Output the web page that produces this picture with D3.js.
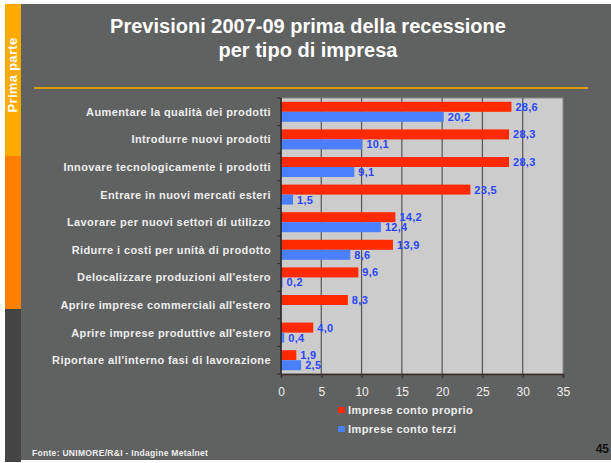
<!DOCTYPE html>
<html>
<head>
<meta charset="utf-8">
<script src="https://cdn.jsdelivr.net/npm/d3@7"></script>
<style>
  body { margin: 0; background: #fff; }
  text { font-family: Arial, "Liberation Sans", sans-serif; }
</style>
</head>
<body>
<script>
// categories and series
var categories = [
  "Aumentare la qualità dei prodotti",
  "Introdurre nuovi prodotti",
  "Innovare tecnologicamente i prodotti",
  "Entrare in nuovi mercati esteri",
  "Lavorare per nuovi settori di utilizzo",
  "Ridurre i costi per unità di prodotto",
  "Delocalizzare produzioni all'estero",
  "Aprire imprese commerciali all'estero",
  "Aprire imprese produttive all'estero",
  "Riportare all'interno fasi di lavorazione"
];
var contoProprio = [28.6, 28.3, 28.3, 23.5, 14.2, 13.9, 9.6, 8.3, 4.0, 1.9];
var contoTerzi   = [20.2, 10.1, 9.1, 1.5, 12.4, 8.6, 0.2, null, 0.4, 2.5];
var seriesNames = ["Imprese conto proprio", "Imprese conto terzi"];
var seriesColors = ["#ff2a00", "#4a80ff"];
var xTicks = [0, 5, 10, 15, 20, 25, 30, 35];

var W = 611, H = 463;
var svg = d3.select("body").append("svg")
    .attr("width", W)
    .attr("height", H);

// slide background
svg.append("rect").attr("x", 21).attr("y", 4).attr("width", W - 21).attr("height", 456).attr("fill", "#606161");
svg.append("rect").attr("x", 5).attr("y", 4).attr("width", 16).attr("height", 152).attr("fill", "#ffaa00");
svg.append("rect").attr("x", 5).attr("y", 156).attr("width", 16).attr("height", 153).attr("fill", "#ff7f00");
svg.append("rect").attr("x", 5).attr("y", 309).attr("width", 16).attr("height", 153).attr("fill", "#444444");

svg.append("text")
    .attr("transform", "translate(17,75) rotate(-90)")
    .attr("text-anchor", "middle")
    .attr("fill", "#fff")
    .style("font-size", "13px")
    .style("font-weight", "bold")
    .style("letter-spacing", "0.3px")
    .text("Prima parte");

// title
var title = svg.append("text")
    .attr("text-anchor", "middle")
    .attr("fill", "#fff")
    .style("font-size", "20px")
    .style("font-weight", "bold");
title.append("tspan").attr("x", 308).attr("y", 33).text("Previsioni 2007-09 prima della recessione");
title.append("tspan").attr("x", 308).attr("y", 57).text("per tipo di impresa");

svg.append("line")
    .attr("x1", 34).attr("x2", 588).attr("y1", 88).attr("y2", 88)
    .attr("stroke", "#e09a10").attr("stroke-width", 2);

// plot area
var plotLeft = 281, plotRight = 563, plotTop = 98, plotBottom = 374;

var x = d3.scaleLinear().domain([0, 35]).range([plotLeft, plotRight]);
var y = d3.scaleBand().domain(categories).range([plotTop, plotBottom]);
var inner = d3.scaleBand().domain([0, 1]).range([0, y.bandwidth()]).paddingOuter(0.38).paddingInner(0);

svg.append("rect")
    .attr("x", plotLeft).attr("y", plotTop)
    .attr("width", plotRight - plotLeft).attr("height", plotBottom - plotTop)
    .attr("fill", "#cccccc")
    .attr("stroke", "#8a8a8a");

// vertical gridlines
svg.append("g").selectAll("line")
    .data(xTicks.slice(1, -1))
    .enter().append("line")
    .attr("x1", function(d) { return x(d); })
    .attr("x2", function(d) { return x(d); })
    .attr("y1", plotTop).attr("y2", plotBottom)
    .attr("stroke", "#555").attr("stroke-width", 1.2);

// bars
var series = [contoProprio, contoTerzi];
series.forEach(function(vals, s) {
  var rows = categories.map(function(c, i) { return {cat: c, v: vals[i]}; })
      .filter(function(d) { return d.v != null; });
  var g = svg.append("g");
  g.selectAll("rect")
      .data(rows)
      .enter().append("rect")
      .attr("x", x(0))
      .attr("y", function(d) { return y(d.cat) + inner(s); })
      .attr("width", function(d) { return x(d.v) - x(0); })
      .attr("height", inner.bandwidth())
      .attr("fill", seriesColors[s]);

  g.selectAll("text")
      .data(rows)
      .enter().append("text")
      .attr("x", function(d) { return x(d.v) + 4; })
      .attr("y", function(d) { return y(d.cat) + inner(s) + inner.bandwidth() / 2; })
      .attr("dy", "0.36em")
      .attr("fill", "#2a46ff")
      .style("font-size", "11px")
      .style("font-weight", "bold")
      .style("letter-spacing", "0.3px")
      .text(function(d) { return d3.format(".1f")(d.v).replace(".", ","); });
});

// x axis
var xAxis = svg.append("g")
    .attr("transform", "translate(0," + plotBottom + ")")
    .call(d3.axisBottom(x).tickValues(xTicks).tickSize(4).tickPadding(9));
xAxis.select(".domain").attr("stroke", "#3a2a2a").attr("stroke-width", 1.5);
xAxis.selectAll(".tick line").attr("stroke", "#3a2a2a");
xAxis.selectAll("text")
    .attr("fill", "#f0f0f0")
    .style("font-size", "12px")
    .style("font-family", "Arial, 'Liberation Sans', sans-serif");

// y axis: line plus ticks at category boundaries
svg.append("line")
    .attr("x1", plotLeft).attr("x2", plotLeft).attr("y1", plotTop).attr("y2", plotBottom)
    .attr("stroke", "#222").attr("stroke-width", 1.5);
svg.append("g").selectAll("line")
    .data(d3.range(categories.length + 1))
    .enter().append("line")
    .attr("x1", plotLeft - 4).attr("x2", plotLeft)
    .attr("y1", function(i) { return plotTop + i * y.step(); })
    .attr("y2", function(i) { return plotTop + i * y.step(); })
    .attr("stroke", "#3a2a2a");

svg.append("g").selectAll("text")
    .data(categories)
    .enter().append("text")
    .attr("x", 271)
    .attr("y", function(d) { return y(d) + y.bandwidth() / 2; })
    .attr("dy", "0.36em")
    .attr("text-anchor", "end")
    .attr("fill", "#eeeeee")
    .style("font-size", "11px")
    .style("font-weight", "bold")
    .style("letter-spacing", "0.4px")
    .text(function(d) { return d; });

// legend
var legend = svg.append("g").selectAll("g")
    .data(seriesNames)
    .enter().append("g")
    .attr("transform", function(d, i) { return "translate(338," + (407 + i * 19) + ")"; });
legend.append("rect")
    .attr("width", 7).attr("height", 6)
    .attr("fill", function(d, i) { return seriesColors[i]; });
legend.append("text")
    .attr("x", 10).attr("y", 3).attr("dy", "0.36em")
    .attr("fill", "#eeeeee")
    .style("font-size", "11px")
    .style("font-weight", "bold")
    .style("letter-spacing", "0.4px")
    .text(function(d) { return d; });

// footer
svg.append("text")
    .attr("x", 32).attr("y", 456)
    .attr("fill", "#eeeeee")
    .style("font-size", "8.5px")
    .style("font-weight", "bold")
    .style("letter-spacing", "0.3px")
    .text("Fonte: UNIMORE/R&I - Indagine Metalnet");

svg.append("text")
    .attr("x", 609).attr("y", 453)
    .attr("text-anchor", "end")
    .attr("fill", "#111")
    .style("font-size", "12px")
    .style("font-weight", "bold")
    .text("45");
</script>
</body>
</html>
